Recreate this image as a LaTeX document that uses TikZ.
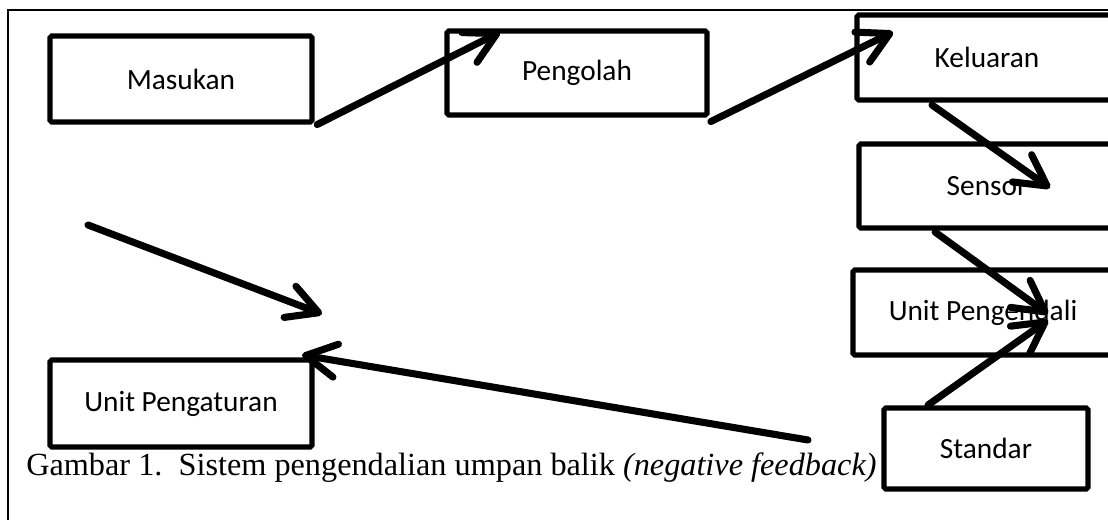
\documentclass[tikz,border=0pt]{standalone}
\usepackage{fontspec}
\setmainfont{Liberation Serif}
\newfontfamily\kotakfont{Carlito}
\usetikzlibrary{arrows.meta}

\tikzset{
    kotak/.style={draw, line width=3.8pt, rounded corners=1.2pt, inner sep=0pt,
        font=\kotakfont\fontsize{22}{24}\selectfont},
    panah/.style={line width=5.3pt, line cap=round, line join=round,
        -{Straight Barb[length=23pt, width=25pt, line cap=round, line join=round]}},
}

\begin{document}
\begin{tikzpicture}[x=0.75pt, y=-0.75pt]

    % Page
    \clip (0, 0) rectangle (1108, 520);
    \fill[white] (0, 0) rectangle (1108, 520);

    % Frame
    \draw[line width=1.2pt] (8, 540) -- (8, 10) -- (1130, 10);

    % Blocks
    \node[kotak, minimum width=196.5pt, minimum height=64.5pt] (masukan) at (181, 79) {Masukan};
    \node[kotak, minimum width=195pt, minimum height=63pt] (pengolah) at (577, 73) {Pengolah};
    \node[kotak, minimum width=195pt, minimum height=63.75pt] (keluaran) at (987, 57.5) {Keluaran};
    \node[kotak, minimum width=192pt, minimum height=63pt] (sensor) at (987, 186) {Sensor};
    \node[kotak, minimum width=195pt, minimum height=63.75pt] (pengendali) at (983, 312.5) {Unit Pengendali};
    \node[kotak, minimum width=153pt, minimum height=60.75pt] (standar) at (986, 448.5) {Standar};
    \node[kotak, minimum width=196.5pt, minimum height=65.25pt] (pengaturan) at (181, 403.5) {Unit Pengaturan};

    % Free ends of the arrows
    \coordinate (ujung1) at (500, 32);
    \coordinate (ujung2) at (893, 32);
    \coordinate (pangkal3) at (932, 105);
    \coordinate (ujung3) at (1050, 188);
    \coordinate (pangkal4) at (935, 232);
    \coordinate (ujung4) at (1048, 314);
    \coordinate (pangkal5) at (928, 405);
    \coordinate (ujung5) at (1048, 320);
    \coordinate (pangkal6) at (88, 225);
    \coordinate (ujung6) at (322, 314);
    \coordinate (pangkal7) at (808, 440);
    \coordinate (ujung7) at (302, 355);

    % Arrows
    \draw[panah] ([xshift=2pt]masukan.south east) -- (ujung1);
    \draw[panah] ([shift={(1pt,-3pt)}]pengolah.south east) -- (ujung2);
    \draw[panah] (pangkal3) -- (ujung3);
    \draw[panah] (pangkal4) -- (ujung4);
    \draw[panah] (pangkal5) -- (ujung5);
    \draw[panah] (pangkal6) -- (ujung6);
    \draw[panah] (pangkal7) -- (ujung7);

    % Caption
    \node[anchor=base west, inner sep=0pt, font=\fontsize{24.2}{28}\selectfont] (judul) at (26, 476)
        {Gambar 1.\ \ Sistem pengendalian umpan balik \textit{(negative feedback)}};

\end{tikzpicture}
\end{document}
